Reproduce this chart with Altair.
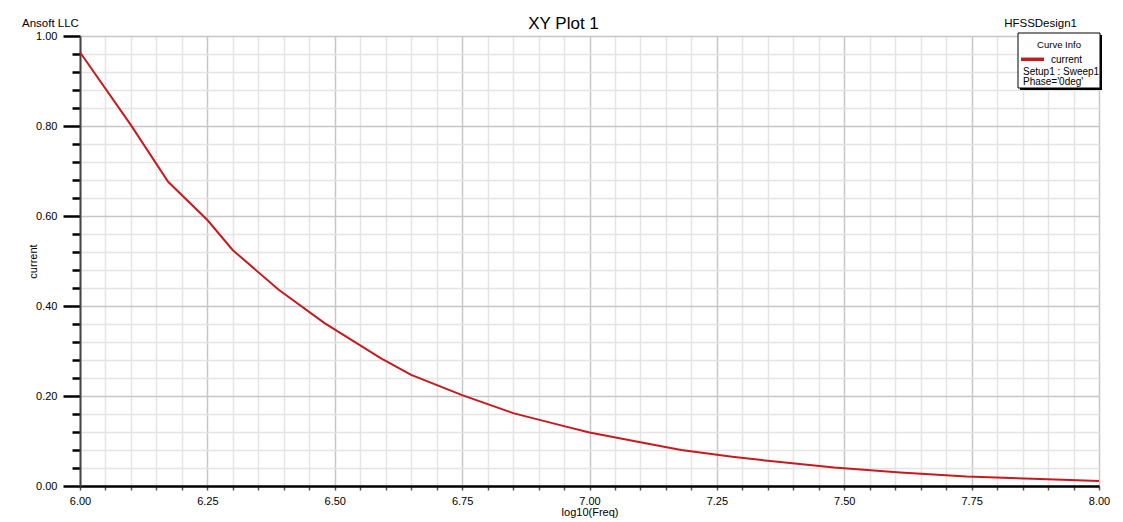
import altair as alt
import pandas as pd

# ---- data ----
log_freq = [6.00, 6.10, 6.173, 6.25, 6.30, 6.39, 6.48, 6.59, 6.65, 6.75, 6.85,
            6.95, 7.00, 7.11, 7.18, 7.28, 7.35, 7.48, 7.61, 7.74, 7.87, 8.00]
current = [0.964, 0.802, 0.676, 0.591, 0.524, 0.436, 0.362, 0.284, 0.247, 0.202,
           0.162, 0.133, 0.119, 0.095, 0.080, 0.065, 0.056, 0.041, 0.030, 0.021,
           0.016, 0.011]

x_ticks = [round(6.0 + 0.05 * i, 2) for i in range(41)]     # minor every 0.05, labels every 0.25
y_ticks = [round(0.04 * i, 2) for i in range(26)]           # minor every 0.04, labels every 0.20

title_text = "XY Plot 1"
left_note = "Ansoft LLC"
right_note = "HFSSDesign1"
legend_title = "Curve Info"
series_name = "current"
legend_lines = ["Setup1 : Sweep1", "Phase='0deg'"]

FONT = "Liberation Sans"
RED = "#c8191e"
W, H = 1019, 450

df = pd.DataFrame({"log10(Freq)": log_freq, "current": current})

x_major = "abs(datum.value*4 - round(datum.value*4)) < 0.001"
y_major = "abs(datum.value*5 - round(datum.value*5)) < 0.001"

x_axis = alt.Axis(
    values=x_ticks,
    labelExpr=f"({x_major}) ? format(datum.value, '.2f') : ''",
    grid=True,
    gridColor={"condition": {"test": x_major, "value": "#c6c6c6"}, "value": "#e4e4e4"},
    gridWidth=1.5,
    tickSize=4, tickColor="#555555", tickWidth=1.5,
    domainColor="#000000", domainWidth=2.5,
    labelFont=FONT, labelFontSize=11, labelColor="#000000", labelPadding=5,
    labelFlush=False, labelOverlap=False,
    title="log10(Freq)", titleFont=FONT, titleFontSize=11, titleFontWeight="normal",
    titleColor="#000000", titleX=W / 2, titleY=26, titleBaseline="middle", titleAlign="center",
)
y_axis = alt.Axis(
    values=y_ticks,
    labelExpr=f"({y_major}) ? format(datum.value, '.2f') : ''",
    grid=True,
    gridColor={"condition": {"test": y_major, "value": "#c6c6c6"}, "value": "#e4e4e4"},
    gridWidth=1.5,
    tickSize={"condition": {"test": y_major, "value": 17}, "value": 8},
    tickColor="#000000", tickWidth=2.5,
    domainColor="#444444", domainWidth=2,
    labelFont=FONT, labelFontSize=11, labelColor="#000000", labelPadding=6,
    labelFlush=False, labelOverlap=False,
    title="current", titleFont=FONT, titleFontSize=11, titleFontWeight="normal",
    titleColor="#000000", titleAngle=270, titleX=-46.5, titleY=H / 2,
    titleBaseline="middle", titleAlign="center",
)

line = alt.Chart(df).mark_line(color=RED, strokeWidth=2).encode(
    x=alt.X("log10(Freq):Q", scale=alt.Scale(domain=[6, 8], nice=False, zero=False), axis=x_axis),
    y=alt.Y("current:Q", scale=alt.Scale(domain=[0, 1], nice=False, zero=False), axis=y_axis),
)

one = alt.Data(values=[{}])

def label(text, x, y, size=11, align="left"):
    return alt.Chart(one).mark_text(
        text=text, font=FONT, fontSize=size, color="#000000", align=align, baseline="alphabetic"
    ).encode(x=alt.value(x), y=alt.value(y))

notes = [
    label(title_text, 483.5, -7, size=17, align="center"),
    label(left_note, -58, -9, size=11.5),
    label(right_note, 997, -9, size=11.5, align="right"),
]

# legend box ("Curve Info")
shadow = alt.Chart(one).mark_rect(fill="#000000").encode(
    x=alt.value(940), x2=alt.value(1022), y=alt.value(-1), y2=alt.value(54))
box = alt.Chart(one).mark_rect(fill="#ffffff", stroke="#000000", strokeWidth=1).encode(
    x=alt.value(938), x2=alt.value(1020), y=alt.value(-3), y2=alt.value(52))
swatch = alt.Chart(one).mark_rule(color=RED, strokeWidth=3.5).encode(
    x=alt.value(941), x2=alt.value(964), y=alt.value(23.3))
legend = [
    shadow, box, swatch,
    label(legend_title, 979, 11.7, size=9.5, align="center"),
    label(series_name, 971, 27.3, size=10),
    label(legend_lines[0], 943, 38.7, size=10),
    label(legend_lines[1], 943, 48.7, size=10),
]

chart = alt.layer(line, *notes, *legend).properties(
    width=W, height=H,
    autosize=alt.AutoSizeParams(type="none"),
    padding={"left": 72, "top": 28, "right": 16, "bottom": 36},
).configure_view(stroke="#000000", strokeWidth=2).configure(background="#ffffff")

chart.save("out.html", embed_options={"renderer": "svg", "actions": False})
